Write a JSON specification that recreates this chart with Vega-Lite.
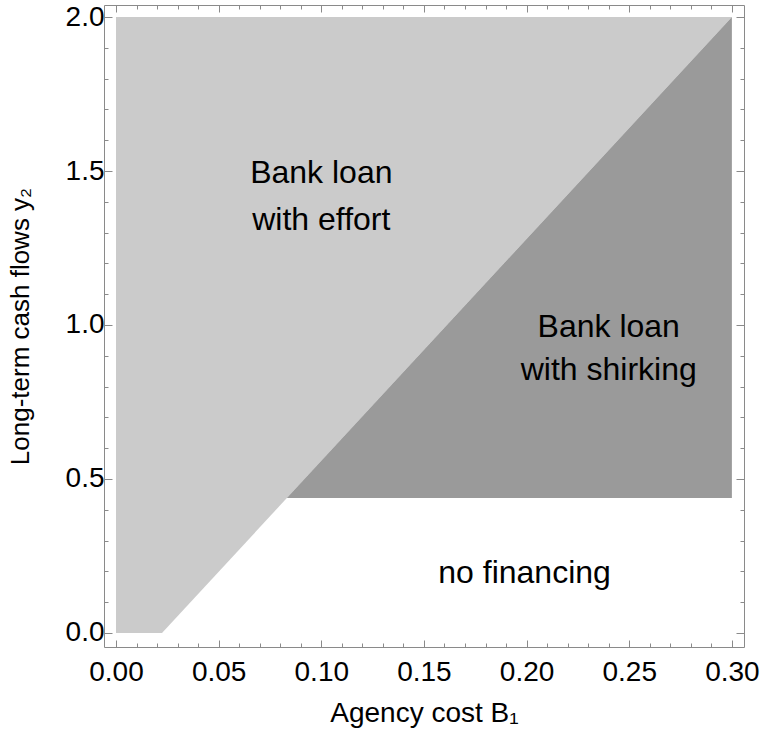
{
  "$schema": "https://vega.github.io/schema/vega-lite/v6.json",
  "width": 640,
  "height": 642,
  "autosize": {"type": "none"},
  "padding": {"left": 104, "top": 5, "right": 17, "bottom": 93},
  "background": "white",
  "config": {
    "view": {"stroke": "#8a8a8a", "strokeWidth": 1},
    "font": "Liberation Sans",
    "axis": {
      "domain": false,
      "grid": false,
      "tickColor": "#8a8a8a",
      "tickWidth": 1,
      "labelFont": "Liberation Sans",
      "labelFontSize": 28,
      "labelColor": "black",
      "titleFont": "Liberation Sans",
      "titleFontSize": 28,
      "titleFontWeight": "normal",
      "titleColor": "black"
    }
  },
  "datasets": {
    "effort": [
      {"b1": 0.0, "lower": 0.0, "upper": 2.0},
      {"b1": 0.0224, "lower": 0.0, "upper": 2.0},
      {"b1": 0.3, "lower": 2.0, "upper": 2.0}
    ],
    "shirking": [
      {"b1": 0.0832, "lower": 0.438, "upper": 0.438},
      {"b1": 0.3, "lower": 0.438, "upper": 2.0}
    ],
    "labels": [
      {"b1": 0.1, "y2": 1.461, "label": "Bank loan"},
      {"b1": 0.1, "y2": 1.308, "label": "with effort"},
      {"b1": 0.24, "y2": 0.961, "label": "Bank loan"},
      {"b1": 0.24, "y2": 0.821, "label": "with shirking"},
      {"b1": 0.199, "y2": 0.162, "label": "no financing"}
    ]
  },
  "resolve": {"axis": {"x": "independent", "y": "independent"}},
  "layer": [
    {
      "data": {"name": "effort"},
      "mark": {"type": "area", "color": "#cbcbcb", "interpolate": "linear"},
      "encoding": {
        "x": {
          "field": "b1", "type": "quantitative",
          "scale": {"domain": [-0.00585, 0.3059], "nice": false, "zero": false},
          "axis": {
            "orient": "bottom",
            "title": "Agency cost B₁",
            "values": [0,0.01,0.02,0.03,0.04,0.05,0.06,0.07,0.08,0.09,0.1,0.11,0.12,0.13,0.14,0.15,0.16,0.17,0.18,0.19,0.2,0.21,0.22,0.23,0.24,0.25,0.26,0.27,0.28,0.29,0.3],
            "labelExpr": "abs(datum.value*20 - round(datum.value*20)) < 0.001 ? format(datum.value, '.2f') : ''",
            "tickSize": {"condition": {"test": "abs(datum.value*20 - round(datum.value*20)) < 0.001", "value": -7}, "value": -4},
            "labelPadding": 18,
            "labelFlush": false,
            "labelOverlap": false,
            "titlePadding": 10
          }
        },
        "y": {
          "field": "lower", "type": "quantitative",
          "scale": {"domain": [-0.0455, 2.039], "nice": false, "zero": false},
          "axis": {
            "orient": "left",
            "title": "Long-term cash flows y₂",
            "titleFontSize": 26,
            "values": [0,0.1,0.2,0.3,0.4,0.5,0.6,0.7,0.8,0.9,1,1.1,1.2,1.3,1.4,1.5,1.6,1.7,1.8,1.9,2],
            "labelExpr": "abs(datum.value*2 - round(datum.value*2)) < 0.001 ? format(datum.value, '.1f') : ''",
            "tickSize": {"condition": {"test": "abs(datum.value*2 - round(datum.value*2)) < 0.001", "value": -8}, "value": -4},
            "labelPadding": 8,
            "labelFlush": false,
            "labelOverlap": false,
            "titlePadding": 32
          }
        },
        "y2": {"field": "upper"}
      }
    },
    {
      "data": {"name": "shirking"},
      "mark": {"type": "area", "color": "#9a9a9a", "interpolate": "linear"},
      "encoding": {
        "x": {
          "field": "b1", "type": "quantitative",
          "axis": {
            "orient": "top",
            "title": null,
            "labels": false,
            "values": [0,0.01,0.02,0.03,0.04,0.05,0.06,0.07,0.08,0.09,0.1,0.11,0.12,0.13,0.14,0.15,0.16,0.17,0.18,0.19,0.2,0.21,0.22,0.23,0.24,0.25,0.26,0.27,0.28,0.29,0.3],
            "tickSize": {"condition": {"test": "abs(datum.value*20 - round(datum.value*20)) < 0.001", "value": -7}, "value": -4}
          }
        },
        "y": {
          "field": "lower", "type": "quantitative",
          "axis": {
            "orient": "right",
            "title": null,
            "labels": false,
            "values": [0,0.1,0.2,0.3,0.4,0.5,0.6,0.7,0.8,0.9,1,1.1,1.2,1.3,1.4,1.5,1.6,1.7,1.8,1.9,2],
            "tickSize": {"condition": {"test": "abs(datum.value*2 - round(datum.value*2)) < 0.001", "value": -8}, "value": -4}
          }
        },
        "y2": {"field": "upper"}
      }
    },
    {
      "data": {"name": "labels"},
      "mark": {"type": "text", "fontSize": 32, "font": "Liberation Sans", "align": "center", "baseline": "alphabetic", "color": "black"},
      "encoding": {
        "x": {"field": "b1", "type": "quantitative", "axis": null},
        "y": {"field": "y2", "type": "quantitative", "axis": null},
        "text": {"field": "label"}
      }
    }
  ]
}
